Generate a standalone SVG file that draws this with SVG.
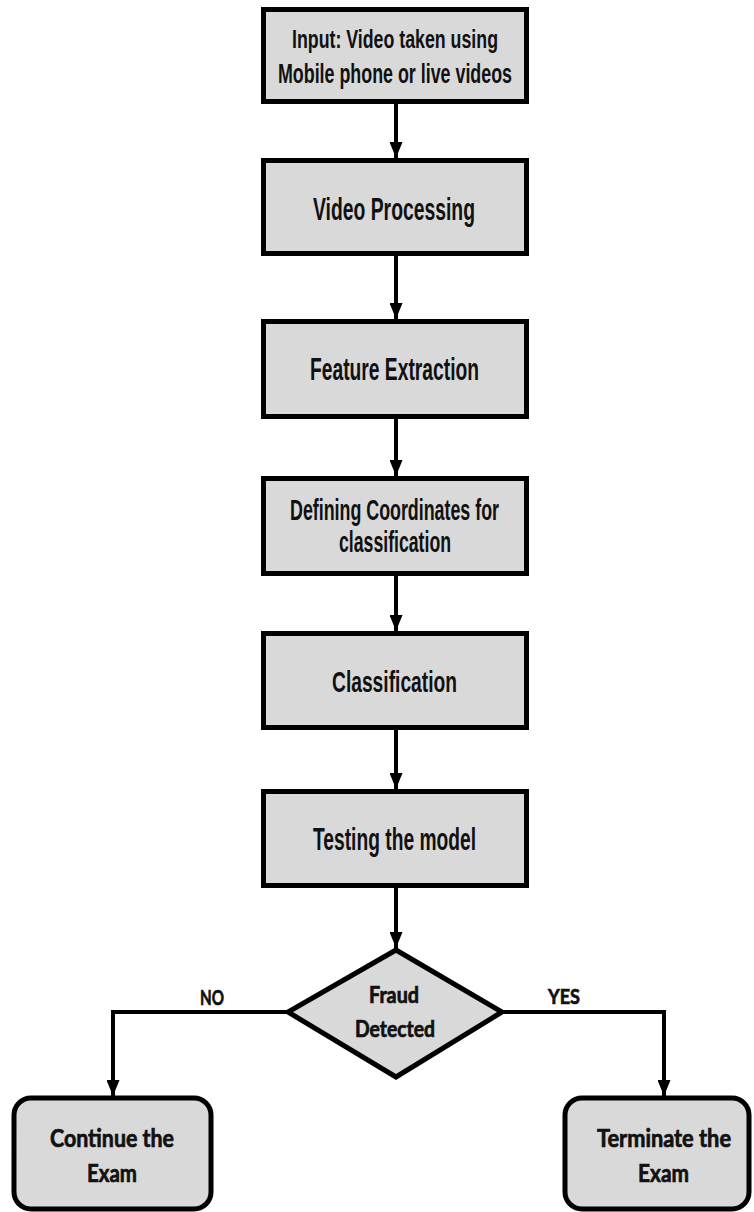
<svg xmlns="http://www.w3.org/2000/svg" width="754" height="1212" viewBox="0 0 754 1212">
<style>
.box{fill:#d9d9d9;stroke:#000;stroke-width:5}
.t{font-family:"Liberation Sans Narrow","Liberation Sans",Arial,sans-serif;font-weight:bold;fill:#111;text-anchor:middle}
.c{font-family:Lato,"Open Sans","Liberation Sans",sans-serif;font-weight:bold;fill:#111;stroke:#111;stroke-width:0.7;text-anchor:middle}
.ln{fill:none;stroke:#000;stroke-width:4}
</style>
<defs>
<marker id="ah" markerUnits="userSpaceOnUse" markerWidth="16" markerHeight="13" refX="16" refY="6.5" orient="auto">
<path d="M0,0 L16,6.5 L0,13 z" fill="#000"/>
</marker>
</defs>
<rect width="754" height="1212" fill="#fff"/>
<g id="connectors">
<line class="ln" x1="396" y1="102" x2="396" y2="158" marker-end="url(#ah)"/>
<line class="ln" x1="396" y1="254" x2="396" y2="319" marker-end="url(#ah)"/>
<line class="ln" x1="396" y1="417" x2="396" y2="476" marker-end="url(#ah)"/>
<line class="ln" x1="396" y1="574" x2="396" y2="631" marker-end="url(#ah)"/>
<line class="ln" x1="396" y1="729" x2="396" y2="789" marker-end="url(#ah)"/>
<line class="ln" x1="396" y1="887" x2="396" y2="948" marker-end="url(#ah)"/>
<polyline class="ln" points="288,1012 113,1012 113,1096" marker-end="url(#ah)"/>
<polyline class="ln" points="502,1012 664,1012 664,1096" marker-end="url(#ah)"/>
<text class="c" x="212" y="1005" font-size="21" textLength="24" lengthAdjust="spacingAndGlyphs">NO</text>
<text class="c" x="564" y="1004" font-size="21" textLength="32" lengthAdjust="spacingAndGlyphs">YES</text>
</g>
<g id="n1">
<rect class="box" x="263.5" y="9.5" width="263" height="92"/>
<text class="t" x="395" y="48" font-size="25" textLength="206" lengthAdjust="spacingAndGlyphs">Input: Video taken using</text>
<text class="t" x="395" y="83" font-size="27" textLength="234" lengthAdjust="spacingAndGlyphs">Mobile phone or live videos</text>
</g>
<g id="n2">
<rect class="box" x="263.5" y="160.5" width="263" height="93"/>
<text class="t" x="394" y="220" font-size="32" textLength="162" lengthAdjust="spacingAndGlyphs">Video Processing</text>
</g>
<g id="n3">
<rect class="box" x="263.5" y="321.5" width="263" height="95"/>
<text class="t" x="394.5" y="380" font-size="31" textLength="169" lengthAdjust="spacingAndGlyphs">Feature Extraction</text>
</g>
<g id="n4">
<rect class="box" x="263.5" y="478.5" width="263" height="95"/>
<text class="t" x="394.5" y="520" font-size="29" textLength="209" lengthAdjust="spacingAndGlyphs">Defining Coordinates for</text>
<text class="t" x="395" y="552" font-size="29" textLength="112" lengthAdjust="spacingAndGlyphs">classification</text>
</g>
<g id="n5">
<rect class="box" x="263.5" y="633.5" width="263" height="94"/>
<text class="t" x="394.5" y="692" font-size="30" textLength="125" lengthAdjust="spacingAndGlyphs">Classification</text>
</g>
<g id="n6">
<rect class="box" x="263.5" y="791.5" width="263" height="94"/>
<text class="t" x="394.5" y="850" font-size="31" textLength="163" lengthAdjust="spacingAndGlyphs">Testing the model</text>
</g>
<g id="n7">
<polygon class="box" points="396,950 502,1012 396,1077 288,1012"/>
<text class="c" x="394" y="1003" font-size="22" textLength="50" lengthAdjust="spacingAndGlyphs">Fraud</text>
<text class="c" x="395" y="1037" font-size="22" textLength="80" lengthAdjust="spacingAndGlyphs">Detected</text>
</g>
<g id="n8">
<rect class="box" x="14" y="1098" width="197" height="111" rx="17" ry="17"/>
<text class="c" x="112" y="1147" font-size="25" textLength="124" lengthAdjust="spacingAndGlyphs">Continue the</text>
<text class="c" x="112" y="1182" font-size="25" textLength="50" lengthAdjust="spacingAndGlyphs">Exam</text>
</g>
<g id="n9">
<rect class="box" x="565" y="1098" width="184" height="111" rx="17" ry="17"/>
<text class="c" x="664" y="1147" font-size="24" textLength="134" lengthAdjust="spacingAndGlyphs">Terminate the</text>
<text class="c" x="663.5" y="1182" font-size="25" textLength="51" lengthAdjust="spacingAndGlyphs">Exam</text>
</g>
</svg>
